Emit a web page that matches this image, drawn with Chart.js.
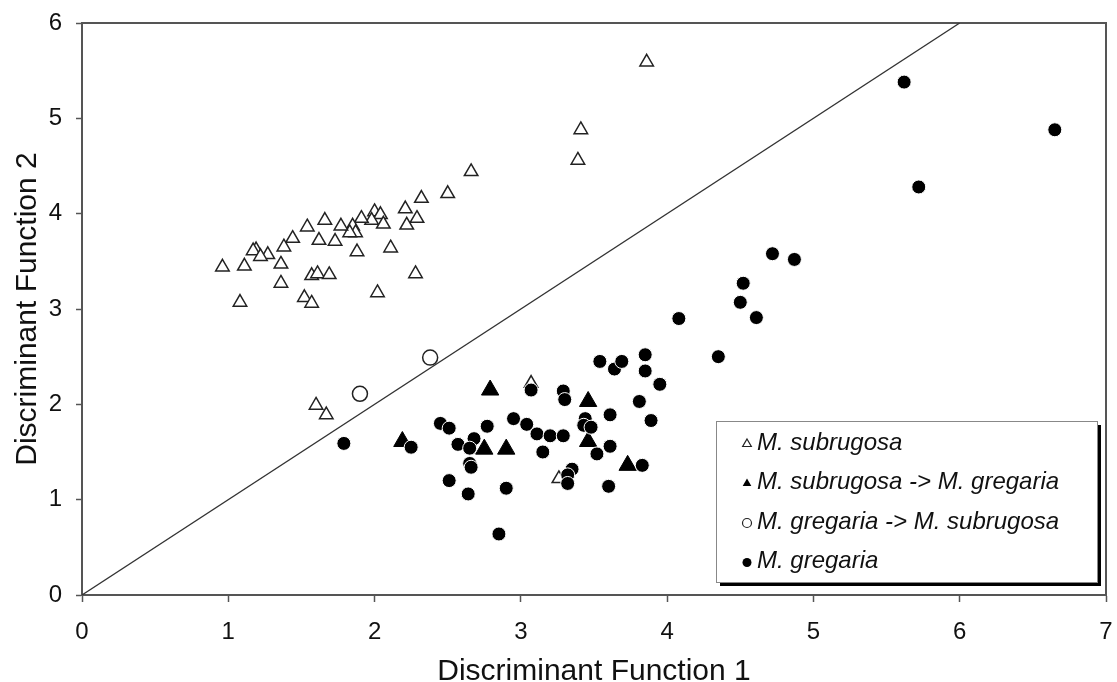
<!DOCTYPE html>
<html>
<head>
<meta charset="utf-8">
<script src="https://cdn.jsdelivr.net/npm/chart.js@4.4.1/dist/chart.umd.min.js"></script>
<style>
    html, body { margin: 0; padding: 0; background: #fff; }
    #wrap { width: 1117px; height: 682px; }
</style>
</head>
<body>
<div id="wrap"><canvas id="discriminantChart" width="1117" height="682"></canvas></div>
<script>
// Axis ranges / tick labels
const xTickValues = [0, 1, 2, 3, 4, 5, 6, 7];
const yTickValues = [0, 1, 2, 3, 4, 5, 6];

// Separation line (y = x) end points
const boundaryX = [0, 6];
const boundaryY = [0, 6];

// M. subrugosa (open triangles)
const subrugosa = [
    [3.86, 5.59], [3.41, 4.88], [3.39, 4.56], [2.66, 4.44], [2.50, 4.21], [2.32, 4.16],
    [2.21, 4.05], [2.29, 3.95], [2.22, 3.88], [2.00, 4.02], [2.04, 3.99], [1.98, 3.93],
    [2.06, 3.89], [1.91, 3.95], [1.85, 3.87], [1.87, 3.80], [1.83, 3.80], [1.77, 3.87],
    [1.66, 3.93], [1.54, 3.86], [1.62, 3.72], [1.73, 3.71], [1.44, 3.74], [1.38, 3.65],
    [1.27, 3.57], [1.19, 3.62], [1.17, 3.61], [1.22, 3.55], [1.11, 3.45], [0.96, 3.44],
    [1.36, 3.47], [1.36, 3.27], [1.88, 3.60], [2.11, 3.64], [1.57, 3.35], [1.61, 3.37],
    [1.69, 3.36], [2.28, 3.37], [2.02, 3.17], [1.08, 3.07], [1.52, 3.12], [1.57, 3.06],
    [1.60, 1.99], [1.67, 1.89], [3.07, 2.22], [3.26, 1.22]
];

// M. subrugosa -> M. gregaria (filled triangles)
const subrugosaToGregaria = [
    [2.19, 1.61], [2.79, 2.15], [2.75, 1.53], [2.90, 1.53], [3.46, 2.03], [3.46, 1.61], [3.73, 1.36]
];

// M. gregaria -> M. subrugosa (open circles)
const gregariaToSubrugosa = [
    [1.90, 2.11], [2.38, 2.49]
];

// M. gregaria (filled circles)
const gregaria = [
    [1.79, 1.59], [2.25, 1.55], [2.45, 1.80], [2.51, 1.75], [2.57, 1.58], [2.68, 1.64],
    [2.65, 1.54], [2.65, 1.38], [2.66, 1.34], [2.51, 1.20], [2.64, 1.06], [2.90, 1.12],
    [2.85, 0.64], [2.77, 1.77], [2.95, 1.85], [3.04, 1.79], [3.11, 1.69], [3.20, 1.67],
    [3.29, 1.67], [3.15, 1.50], [3.07, 2.15], [3.29, 2.14], [3.30, 2.05], [3.44, 1.85],
    [3.43, 1.78], [3.48, 1.76], [3.61, 1.89], [3.61, 1.56], [3.52, 1.48], [3.83, 1.36],
    [3.35, 1.32], [3.32, 1.26], [3.32, 1.17], [3.60, 1.14], [3.54, 2.45], [3.64, 2.37],
    [3.69, 2.45], [3.85, 2.52], [3.85, 2.35], [3.95, 2.21], [3.81, 2.03], [3.89, 1.83],
    [4.08, 2.90], [4.35, 2.50], [4.50, 3.07], [4.52, 3.27], [4.61, 2.91], [4.72, 3.58],
    [4.87, 3.52], [5.62, 5.38], [5.72, 4.28], [6.65, 4.88]
];

const legendLabels = [
    'M. subrugosa',
    'M. subrugosa -> M. gregaria',
    'M. gregaria -> M. subrugosa',
    'M. gregaria'
];

const FONT = "'Liberation Sans', Arial, sans-serif";
const AXIS_GREY = '#555';

function toPoints(pairs) {
    return pairs.map(p => ({ x: p[0], y: p[1] }));
}

// box around the plot (top + right sides; left/bottom are the axis borders)
const framePlugin = {
    id: 'frame',
    beforeDatasetsDraw(chart) {
        const { ctx, chartArea } = chart;
        ctx.save();
        ctx.strokeStyle = AXIS_GREY;
        ctx.lineWidth = 2;
        ctx.beginPath();
        ctx.moveTo(chartArea.left, chartArea.top);
        ctx.lineTo(chartArea.right, chartArea.top);
        ctx.lineTo(chartArea.right, chartArea.bottom);
        ctx.stroke();
        ctx.restore();
    }
};

function drawSymbol(ctx, kind, x, y) {
    ctx.beginPath();
    if (kind === 0 || kind === 1) {
        const r = 5;
        ctx.moveTo(x, y - r);
        ctx.lineTo(x + r * 0.866, y + r / 2);
        ctx.lineTo(x - r * 0.866, y + r / 2);
        ctx.closePath();
    } else {
        ctx.arc(x, y, 4.5, 0, Math.PI * 2);
    }
    if (kind === 0 || kind === 2) {
        ctx.fillStyle = '#fff';
        ctx.fill();
        ctx.lineWidth = 1.2;
        ctx.strokeStyle = '#222';
        ctx.stroke();
    } else {
        ctx.fillStyle = '#000';
        ctx.fill();
    }
}

const boxLegendPlugin = {
    id: 'boxLegend',
    afterDatasetsDraw(chart) {
        const { ctx } = chart;
        const left = 716, top = 421, width = 381, height = 161;
        ctx.save();
        // shadow
        ctx.fillStyle = '#000';
        ctx.fillRect(left + 4, top + 4, width, height);
        ctx.fillStyle = '#fff';
        ctx.fillRect(left, top, width, height);
        ctx.strokeStyle = '#888';
        ctx.lineWidth = 1;
        ctx.strokeRect(left + 0.5, top + 0.5, width, height);

        ctx.font = 'italic 24px ' + FONT;
        ctx.textBaseline = 'middle';
        ctx.textAlign = 'left';
        legendLabels.forEach((label, i) => {
            const cy = top + 22 + i * 39.5;
            drawSymbol(ctx, i, left + 31, cy + 1);
            ctx.fillStyle = '#111';
            ctx.fillText(label, left + 41, cy);
        });
        ctx.restore();
    }
};

function markerDataset(label, pairs, style, order) {
    return Object.assign({
        label: label,
        data: toPoints(pairs),
        order: order
    }, style);
}

const ctx = document.getElementById('discriminantChart').getContext('2d');

new Chart(ctx, {
    type: 'scatter',
    data: {
        datasets: [
            markerDataset(legendLabels[3], gregaria, {
                pointStyle: 'circle', pointRadius: 7, backgroundColor: '#000',
                borderColor: '#fff', borderWidth: 1
            }, 1),
            markerDataset(legendLabels[1], subrugosaToGregaria, {
                pointStyle: 'triangle', pointRadius: 10, backgroundColor: '#000',
                borderColor: '#000', borderWidth: 1
            }, 2),
            markerDataset(legendLabels[2], gregariaToSubrugosa, {
                pointStyle: 'circle', pointRadius: 7.5, backgroundColor: '#fff',
                borderColor: '#222', borderWidth: 1.5
            }, 3),
            markerDataset(legendLabels[0], subrugosa, {
                pointStyle: 'triangle', pointRadius: 7.8, backgroundColor: '#fff',
                borderColor: '#222', borderWidth: 1.5
            }, 4),
            {
                label: 'boundary',
                data: boundaryX.map((x, i) => ({ x: x, y: boundaryY[i] })),
                showLine: true,
                pointRadius: 0,
                borderColor: '#333',
                borderWidth: 1.3,
                order: 5
            }
        ]
    },
    options: {
        responsive: false,
        animation: false,
        events: [],
        layout: {
            padding: { top: 23, right: 8, left: 0, bottom: 0 }
        },
        plugins: {
            legend: { display: false },
            tooltip: { enabled: false },
            title: { display: false }
        },
        scales: {
            x: {
                type: 'linear',
                min: 0,
                max: 7,
                afterFit: scale => {
                    scale.height = 87;
                    scale.paddingLeft = 0;
                    scale.paddingRight = 0;
                },
                afterBuildTicks: scale => { scale.ticks = xTickValues.map(v => ({ value: v })); },
                ticks: {
                    font: { family: FONT, size: 24 },
                    color: '#111',
                    padding: 16
                },
                grid: {
                    display: true,
                    drawOnChartArea: false,
                    drawTicks: true,
                    tickLength: 7,
                    tickColor: AXIS_GREY,
                    tickWidth: 1.5
                },
                border: { display: true, color: AXIS_GREY, width: 2 },
                title: {
                    display: true,
                    text: 'Discriminant Function 1',
                    color: '#111',
                    font: { family: FONT, size: 30, lineHeight: 0.7 },
                    padding: { top: 0, bottom: 0 }
                }
            },
            y: {
                type: 'linear',
                min: 0,
                max: 6,
                afterFit: scale => {
                    scale.width = 82;
                    scale.paddingTop = 0;
                    scale.paddingBottom = 0;
                },
                afterBuildTicks: scale => { scale.ticks = yTickValues.map(v => ({ value: v })); },
                ticks: {
                    font: { family: FONT, size: 24 },
                    color: '#111',
                    padding: 14
                },
                grid: {
                    display: true,
                    drawOnChartArea: false,
                    drawTicks: true,
                    tickLength: 6,
                    tickColor: AXIS_GREY,
                    tickWidth: 1.5
                },
                border: { display: true, color: AXIS_GREY, width: 2 },
                title: {
                    display: true,
                    text: 'Discriminant Function 2',
                    color: '#111',
                    font: { family: FONT, size: 30, lineHeight: 0.7 },
                    padding: { top: 17, bottom: 0 }
                }
            }
        }
    },
    plugins: [framePlugin, boxLegendPlugin]
});
</script>
</body>
</html>
